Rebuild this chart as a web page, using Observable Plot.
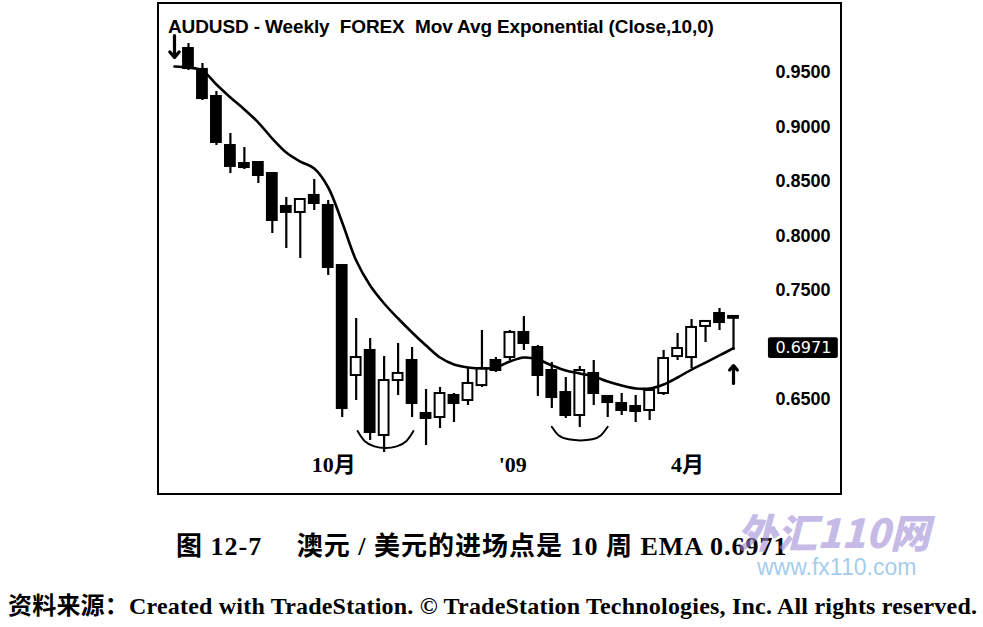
<!DOCTYPE html>
<html><head><meta charset="utf-8">
<script src="https://cdn.jsdelivr.net/npm/d3@7"></script>
<script src="https://cdn.jsdelivr.net/npm/@observablehq/plot@0.6"></script>
<style>
html,body{margin:0;padding:0;background:#fff;overflow:hidden;}
#wrap{position:relative;width:983px;height:627px;background:#fff;}
#chart{position:absolute;left:0;top:0;}
#frame{position:absolute;left:157px;top:2px;width:685px;height:493px;border:2px solid #000;box-sizing:border-box;pointer-events:none;}
#title{position:absolute;left:168px;top:17px;font:bold 19px "Liberation Sans",Arial,sans-serif;line-height:1;letter-spacing:-0.12px;white-space:pre;color:#000;}
#caption{position:absolute;left:176px;top:534px;font:600 26px "Liberation Serif","Noto Sans CJK SC",serif;line-height:1;letter-spacing:1px;white-space:pre;color:#000;}
#source{position:absolute;left:8px;top:594px;font:bold 24px "Liberation Serif","Noto Sans CJK SC",serif;line-height:1;letter-spacing:0.2px;white-space:pre;color:#000;}
#wm1{position:absolute;left:737px;top:511px;font:italic 900 40px "Noto Sans CJK SC","Liberation Sans",sans-serif;line-height:1;color:rgba(160,140,215,0.6);white-space:pre;}
#wm2{position:absolute;left:757px;top:556px;font:23px "Liberation Sans",Arial,sans-serif;line-height:1;color:rgba(140,190,230,0.8);white-space:pre;}
</style>
</head><body>
<div id="wrap">
<div id="chart"></div>
<div id="frame"></div>
<div id="title">AUDUSD - Weekly  FOREX  Mov Avg Exponential (Close,10,0)</div>
<div id="caption">图 12-7　 澳元 / 美元的进场点是 10 周 EMA 0.6971</div>
<div id="wm1">外汇110网</div>
<div id="wm2">www.fx110.com</div>
<div id="source">资料来源：Created with TradeStation. © TradeStation Technologies, Inc. All rights reserved.</div>
</div>
<script>
// weekly bars (index 0..39)
const weeks = [0,1,2,3,4,5,6,7,8,9,10,11,12,13,14,15,16,17,18,19,20,21,22,23,24,25,26,27,28,29,30,31,32,33,34,35,36,37,38,39];
const opens  = [0.9720,0.9528,0.9280,0.8830,0.8665,0.8674,0.8573,0.8271,0.8216,0.8372,0.8280,0.7729,0.6720,0.6950,0.6170,0.6674,0.6858,0.6372,0.6335,0.6537,0.6491,0.6628,0.6858,0.6885,0.7115,0.6977,0.6766,0.6564,0.6353,0.6739,0.6528,0.6463,0.6436,0.6399,0.6555,0.6894,0.6885,0.7170,0.7289,0.7252];
const highs  = [0.9766,0.9583,0.9326,0.8940,0.8812,0.8680,0.8583,0.8353,0.8344,0.8518,0.8326,0.7739,0.7243,0.7060,0.6894,0.7014,0.6977,0.6592,0.6610,0.6555,0.6784,0.7133,0.6885,0.7133,0.7261,0.6995,0.6839,0.6702,0.6803,0.6858,0.6537,0.6555,0.6537,0.6601,0.6950,0.7106,0.7234,0.7216,0.7335,0.7252];
const lows   = [0.9518,0.9243,0.8830,0.8573,0.8610,0.8482,0.8023,0.7885,0.7794,0.8234,0.7638,0.6335,0.6491,0.6124,0.6014,0.6537,0.6335,0.6078,0.6234,0.6289,0.6445,0.6610,0.6748,0.6858,0.6950,0.6528,0.6417,0.6326,0.6243,0.6445,0.6335,0.6353,0.6289,0.6307,0.6537,0.6858,0.6784,0.7023,0.7133,0.6950];
const closes = [0.9537,0.9261,0.8858,0.8638,0.8628,0.8555,0.8142,0.8216,0.8335,0.8298,0.7711,0.6417,0.6885,0.6197,0.6674,0.6739,0.6463,0.6326,0.6555,0.6463,0.6647,0.6784,0.6766,0.7115,0.7014,0.6720,0.6518,0.6353,0.6766,0.6555,0.6472,0.6399,0.6390,0.6583,0.6876,0.6968,0.7161,0.7216,0.7206,0.7245];

// 10-week EMA (index -1..39)
const emaWeeks = [-1,0,1,2,3,4,5,6,7,8,9,10,11,12,13,14,15,16,17,18,19,20,21,22,23,24,25,26,27,28,29,30,31,32,33,34,35,36,37,38,39];
const emaValues = [0.9555,0.9546,0.9518,0.9390,0.9271,0.9161,0.9041,0.8894,0.8766,0.8683,0.8619,0.8445,0.8124,0.7775,0.7546,0.7381,0.7243,0.7115,0.6995,0.6885,0.6821,0.6794,0.6784,0.6794,0.6849,0.6885,0.6867,0.6812,0.6766,0.6739,0.6711,0.6665,0.6628,0.6601,0.6601,0.6638,0.6702,0.6775,0.6839,0.6904,0.6971];

// axis ticks
const yTicks = [0.65, 0.75, 0.80, 0.85, 0.90, 0.95];
const xTickPos = [10.4, 23.2, 35.7];
const xTickLabels = ["10月", "'09", "4月"];

// annotation arcs (week, price)
const arc1Weeks = [12.1,12.6,13.3,14.1,14.9,15.6,16.1];
const arc1Prices = [0.6210,0.6120,0.6070,0.6055,0.6070,0.6120,0.6210];
const arc2Weeks = [26.0,26.5,27.2,28.05,28.9,29.5,30.0];
const arc2Prices = [0.6250,0.6170,0.6135,0.6125,0.6135,0.6170,0.6250];

// signal arrows
const arrowWeeks = [-1, 39];
const arrowFrom = [0.9839, 0.6647];
const arrowTo = [0.9638, 0.6812];

const bars = weeks.map((w, i) => ({w, o: opens[i], h: highs[i], l: lows[i], c: closes[i]}));
const ema = emaWeeks.map((w, i) => ({w, v: emaValues[i]}));
const arc1 = arc1Weeks.map((w, i) => ({w, v: arc1Prices[i]}));
const arc2 = arc2Weeks.map((w, i) => ({w, v: arc2Prices[i]}));
const arrows = arrowWeeks.map((w, i) => ({w, a: arrowFrom[i], b: arrowTo[i]}));
const lastEma = emaValues[emaValues.length - 1];
const half = 0.35;

const chart = Plot.plot({
  width: 983,
  height: 500,
  marginLeft: 174,
  marginRight: 250,
  marginTop: 72,
  marginBottom: 101,
  style: {background: "transparent", fontFamily: "Liberation Sans, Arial, sans-serif"},
  x: {domain: [-1, 39], axis: null},
  y: {domain: [0.65, 0.95], axis: null},
  marks: [
    Plot.axisY(yTicks, {anchor: "right", label: null, tickSize: 0, tickPadding: 42, tickFormat: d3.format(".4f"),
      fontSize: 18, fontWeight: "bold", fontFamily: "Liberation Sans, Arial, sans-serif", letterSpacing: 0.8}),
    Plot.axisX(xTickPos, {anchor: "bottom", label: null, tickSize: 0, tickPadding: 57,
      tickFormat: d => xTickLabels[xTickPos.indexOf(d)],
      fontSize: 22, fontWeight: "bold", fontFamily: "Liberation Serif, Noto Sans CJK SC, serif"}),
    Plot.ruleX(bars, {x: "w", y1: "l", y2: "h", stroke: "black", strokeWidth: 2.2}),
    Plot.rect(bars, {x1: d => d.w - half, x2: d => d.w + half,
      y1: d => Math.min(d.o, d.c), y2: d => Math.max(d.o, d.c) + (Math.abs(d.o - d.c) < 0.001 ? 0.001 : 0),
      fill: d => d.c >= d.o ? "white" : "black", stroke: "black", strokeWidth: 2}),
    Plot.line(ema, {x: "w", y: "v", stroke: "black", strokeWidth: 2.6, curve: "catmull-rom"}),
    Plot.line(arc1, {x: "w", y: "v", stroke: "black", strokeWidth: 2, curve: "natural"}),
    Plot.line(arc2, {x: "w", y: "v", stroke: "black", strokeWidth: 2, curve: "natural"}),
    Plot.arrow(arrows, {x: "w", y1: "a", y2: "b", stroke: "black", strokeWidth: 3.2, headLength: 7, headAngle: 80, bend: 0}),
    Plot.rect([lastEma], {x1: () => 41.5, x2: () => 46.5, y1: d => d - 0.0095, y2: d => d + 0.0095, fill: "black", rx: 2}),
    Plot.text([lastEma], {x: () => 44, y: d => d, text: d => d3.format(".4f")(d), fill: "white",
      fontSize: 16, fontFamily: "DejaVu Sans, sans-serif"})
  ]
});
document.getElementById("chart").appendChild(chart);
</script>
</body></html>
